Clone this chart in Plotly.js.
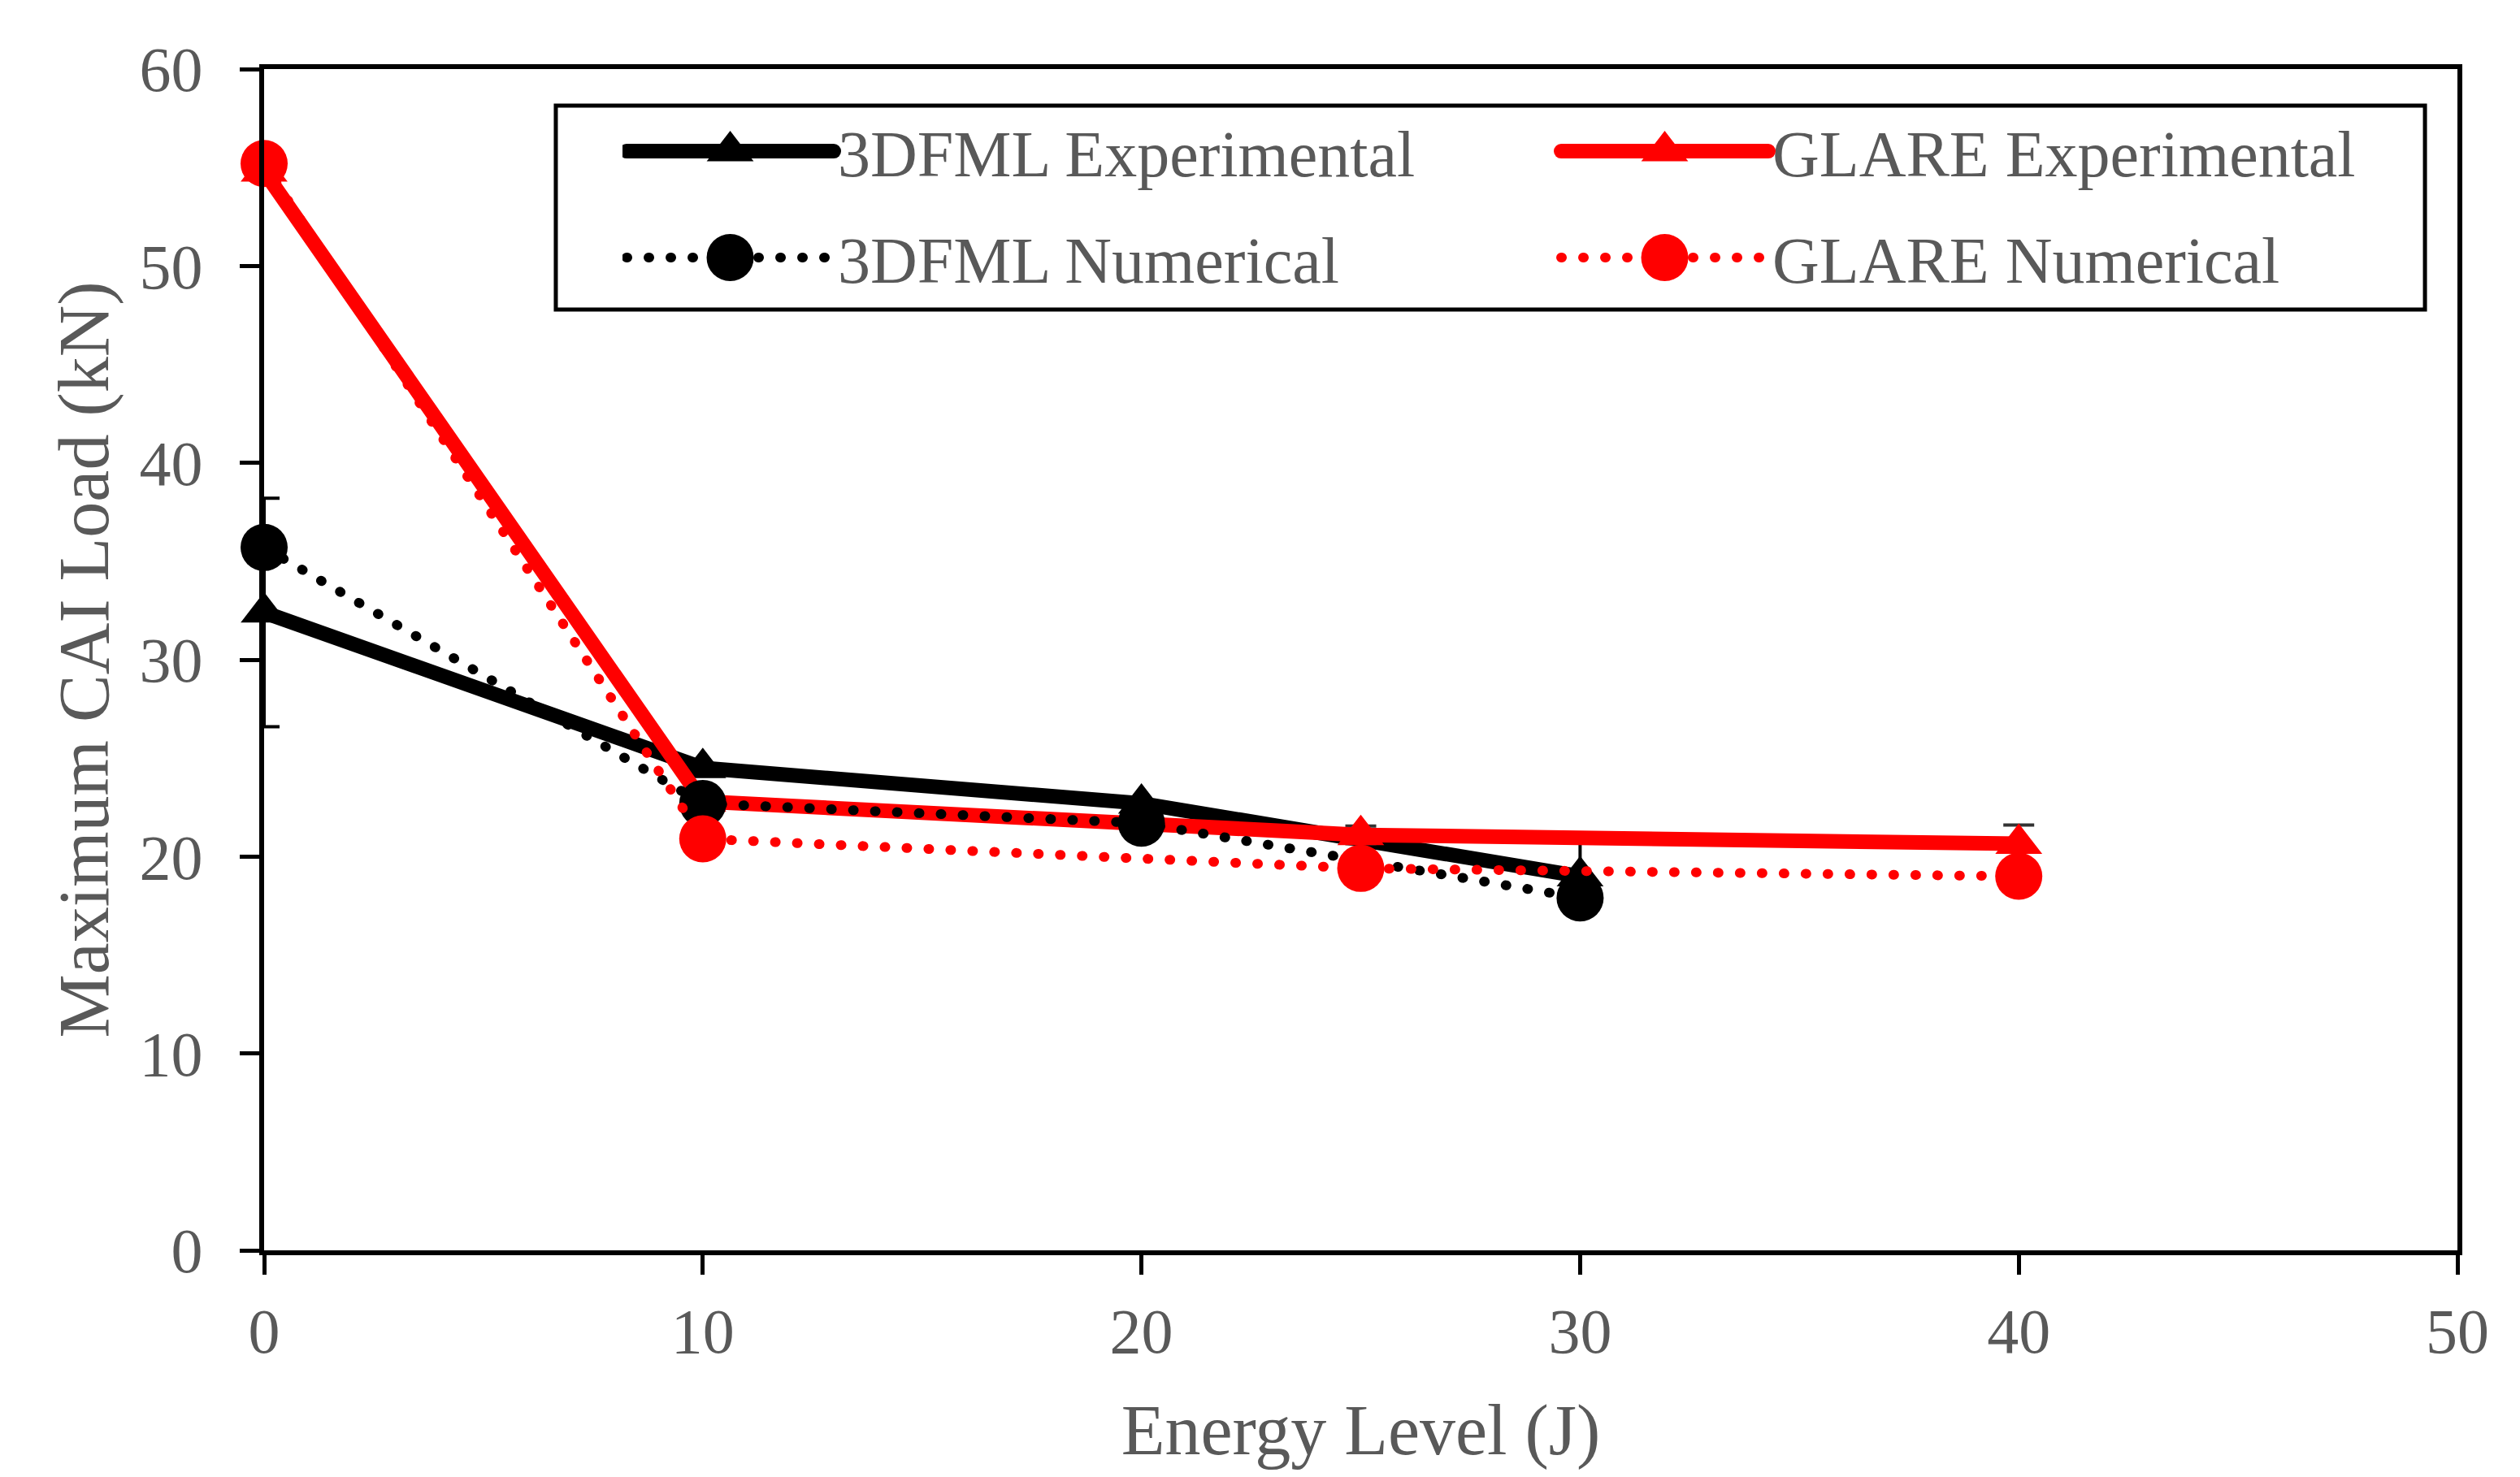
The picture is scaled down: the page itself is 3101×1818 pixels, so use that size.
<!DOCTYPE html>
<html>
<head>
<meta charset="utf-8">
<script src="https://cdn.plot.ly/plotly-3.0.1.min.js"></script>
<style>
  html, body { margin: 0; padding: 0; background: #fff; }
  #chart { width: 3101px; height: 1818px; }
  /* Excel-style round line ends, so the dotted series get round dots */
  .js-line { stroke-linecap: round; }
</style>
</head>
<body>
<div id="chart"></div>
<script>
// impact energy (J) and max CAI load (kN)
const energy3dfml = [0, 10, 20, 30];
const load3dfmlExp = [32.4, 24.5, 22.7, 19.0];
const err3dfmlExp = [5.8, NaN, NaN, 1.8];   // NaN = bar hidden under the marker
const load3dfmlNum = [35.7, 22.7, 21.7, 17.9];

const energyGlare = [0, 10, 25, 40];
const loadGlareExp = [54.8, 22.8, 21.1, 20.65];
const errGlareExp = [NaN, NaN, 0.45, 0.95];
const loadGlareNum = [55.2, 20.9, 19.4, 19.0];

const GREY = '#595959';
const FONT = 'Liberation Serif, Times New Roman, serif';

const expLine = (color) => ({ color: color, width: 18 });
const numLine = (color) => ({ color: color, width: 12, dash: '1px,26px' });

const traces = [
  {
    x: energy3dfml, y: load3dfmlExp,
    name: '3DFML Experimental', legend: 'legend',
    type: 'scatter', mode: 'lines+markers',
    line: expLine('#000000'),
    marker: { symbol: 'triangle-up', size: 50, color: '#000000' },
    error_y: { type: 'data', array: err3dfmlExp, color: '#000000', thickness: 4, width: 19 },
    cliponaxis: false,
  },
  {
    x: energyGlare, y: loadGlareExp,
    name: 'GLARE Experimental', legend: 'legend',
    type: 'scatter', mode: 'lines+markers',
    line: expLine('#ff0000'),
    marker: { symbol: 'triangle-up', size: 50, color: '#ff0000' },
    error_y: { type: 'data', array: errGlareExp, color: '#333333', thickness: 4, width: 19 },
    cliponaxis: false,
  },
  {
    x: energy3dfml, y: load3dfmlNum,
    name: '3DFML Numerical', legend: 'legend2',
    type: 'scatter', mode: 'lines+markers',
    line: numLine('#000000'),
    marker: { symbol: 'circle', size: 58, color: '#000000' },
    cliponaxis: false,
  },
  {
    x: energyGlare, y: loadGlareNum,
    name: 'GLARE Numerical', legend: 'legend2',
    type: 'scatter', mode: 'lines+markers',
    line: numLine('#ff0000'),
    marker: { symbol: 'circle', size: 58, color: '#ff0000' },
    cliponaxis: false,
  },
];

const axisBase = {
  showgrid: false,
  zeroline: false,
  showline: true,
  linecolor: '#000000',
  linewidth: 6,
  mirror: true,
  ticks: 'outside',
  ticklen: 24,
  tickwidth: 5,
  tickcolor: '#000000',
  tickfont: { family: FONT, size: 78, color: GREY },
};

// one legend per row, both sitting in a single framed box
const legendRow = (y) => ({
  orientation: 'h',
  x: 0.1634, xanchor: 'left',
  y: y, yanchor: 'middle',
  bgcolor: 'rgba(0,0,0,0)',
  borderwidth: 0,
  itemwidth: 255,
  entrywidth: 880,
  font: { family: FONT, size: 80, color: GREY },
});

const layout = {
  width: 3101,
  height: 1818,
  margin: { l: 325, r: 77, t: 85, b: 279 },
  paper_bgcolor: '#ffffff',
  plot_bgcolor: '#ffffff',
  font: { family: FONT, color: GREY },
  showlegend: true,
  xaxis: {
    ...axisBase,
    range: [0, 50],
    dtick: 10,
    ticklabelstandoff: 2,
    title: { text: 'Energy Level (J)', font: { family: FONT, size: 88, color: GREY }, standoff: 50 },
  },
  yaxis: {
    ...axisBase,
    range: [0, 60],
    dtick: 10,
    ticklabelstandoff: 30,
    title: { text: 'Maximum CAI Load (kN)', font: { family: FONT, size: 88, color: GREY }, standoff: 11 },
  },
  legend: legendRow(0.9305),
  legend2: legendRow(0.8404),
  shapes: [{
    type: 'rect', xref: 'paper', yref: 'paper', layer: 'above',
    x0: 0.1330, x1: 0.9852, y0: 0.7964, y1: 0.9690,
    line: { color: '#000000', width: 5 },
    fillcolor: '#ffffff',
  }],
};

Plotly.newPlot('chart', traces, layout, { displayModeBar: false, staticPlot: true }).then(() => {
  // legend symbols are capped in size by plotly; blow them up to match the plot
  document.querySelectorAll('.infolayer g.traces').forEach(item => {
    const tr = item.__data__[0].trace;
    item.querySelectorAll('path.js-line').forEach(p => { p.style.strokeWidth = tr.line.width + 'px'; });
    item.querySelectorAll('path.scatterpts').forEach(p => {
      const want = tr.marker.symbol === 'circle' ? tr.marker.size : tr.marker.size * 1.155;
      const k = want / p.getBBox().width;
      p.setAttribute('transform', (p.getAttribute('transform') || '') + ' scale(' + k.toFixed(3) + ')');
    });
  });
});
</script>
</body>
</html>
